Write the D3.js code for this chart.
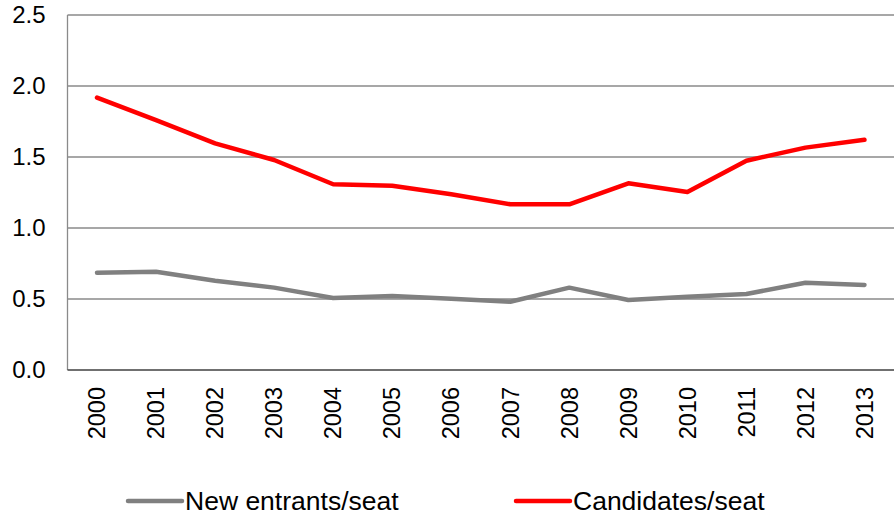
<!DOCTYPE html>
<html>
<head>
<meta charset="utf-8">
<script src="https://cdn.jsdelivr.net/npm/d3@7"></script>
<style>
  html, body { margin: 0; padding: 0; background: #fff; }
  svg { display: block; font-family: "Liberation Sans", Arial, sans-serif; }
</style>
</head>
<body>
<svg id="chart" width="894" height="514"></svg>
<script>
// Years on the category axis
const years = ["2000","2001","2002","2003","2004","2005","2006","2007","2008","2009","2010","2011","2012","2013"];
// Ratios per seat
const newEntrants = [0.685, 0.692, 0.629, 0.580, 0.507, 0.521, 0.501, 0.481, 0.580, 0.493, 0.516, 0.535, 0.615, 0.599];
const candidates  = [1.918, 1.760, 1.596, 1.479, 1.308, 1.298, 1.237, 1.167, 1.167, 1.315, 1.254, 1.474, 1.566, 1.622];
const yTicks = [0, 0.5, 1.0, 1.5, 2.0, 2.5];
const seriesNames = ["New entrants/seat", "Candidates/seat"];
const seriesColors = ["#808080", "#ff0000"];

const svg = d3.select("#chart");
const plotLeft = 67.5, plotRight = 894, plotTop = 15, plotBottom = 370;

const x = d3.scaleBand().domain(years).range([plotLeft, plotRight]).padding(0);
const y = d3.scaleLinear().domain([0, 2.5]).range([plotBottom, plotTop]);

// Horizontal gridlines
svg.append("g")
  .selectAll("line")
  .data(yTicks.filter(d => d > 0))
  .join("line")
  .attr("x1", plotLeft).attr("x2", plotRight)
  .attr("y1", d => y(d)).attr("y2", d => y(d))
  .attr("stroke", "#8a8a8a").attr("stroke-width", 1.3);

// Y axis line
svg.append("line")
  .attr("x1", plotLeft).attr("x2", plotLeft).attr("y1", plotTop).attr("y2", plotBottom)
  .attr("stroke", "#8a8a8a").attr("stroke-width", 1.3);

// X axis line
svg.append("line")
  .attr("x1", plotLeft).attr("x2", plotRight).attr("y1", plotBottom).attr("y2", plotBottom)
  .attr("stroke", "#404040").attr("stroke-width", 1.3);

// Y tick labels
svg.append("g")
  .selectAll("text")
  .data(yTicks)
  .join("text")
  .attr("x", 45.5)
  .attr("y", d => y(d))
  .attr("dy", "0.35em")
  .attr("text-anchor", "end")
  .attr("font-size", 24)
  .attr("fill", "#000")
  .text(d => d3.format(".1f")(d));

// X tick labels, rotated
svg.append("g")
  .selectAll("text")
  .data(years)
  .join("text")
  .attr("transform", d => `translate(${x(d) + x.bandwidth() / 2},387) rotate(-90)`)
  .attr("dy", "0.35em")
  .attr("text-anchor", "end")
  .attr("font-size", 23.5)
  .attr("fill", "#000")
  .text(d => d);

// Series lines
const line = d3.line()
  .x((d, i) => x(years[i]) + x.bandwidth() / 2)
  .y(d => y(d));

[newEntrants, candidates].forEach((vals, k) => {
  svg.append("path")
    .datum(vals)
    .attr("d", line)
    .attr("fill", "none")
    .attr("stroke", seriesColors[k])
    .attr("stroke-width", 4.5)
    .attr("stroke-linejoin", "round")
    .attr("stroke-linecap", "round");
});

// Legend
const legendX = [128, 516];
const legend = svg.append("g");
seriesNames.forEach((name, k) => {
  legend.append("line")
    .attr("x1", legendX[k]).attr("x2", legendX[k] + 54)
    .attr("y1", 501).attr("y2", 501)
    .attr("stroke", seriesColors[k])
    .attr("stroke-width", 4.5)
    .attr("stroke-linecap", "round");
  legend.append("text")
    .attr("x", legendX[k] + 57)
    .attr("y", 509.5)
    .attr("font-size", 26.5)
    .attr("fill", "#000")
    .text(name);
});
</script>
</body>
</html>
